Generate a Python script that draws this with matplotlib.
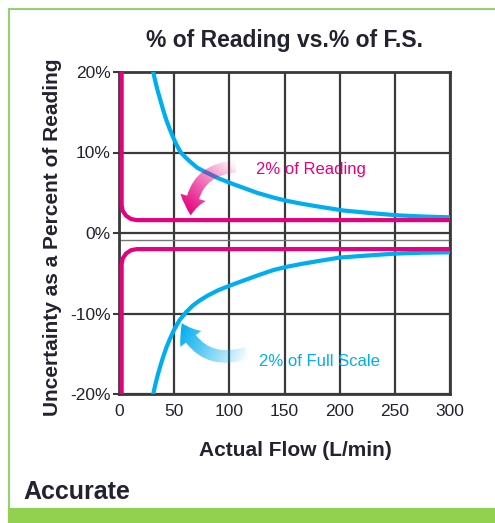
import matplotlib.pyplot as plt
import numpy as np
from matplotlib.patches import FancyArrowPatch, Rectangle

# values (flow in L/min, uncertainty in %)
flow_ticks = [0, 50, 100, 150, 200, 250, 300]
pct_ticks = [-20, -10, 0, 10, 20]
pct_labels = ['-20%', '-10%', '0%', '10%', '20%']

reading_x = [2.4, 2.4, 3.4, 6.4, 10.8, 16, 300]
reading_hi = [20, 3.47, 2.75, 2.15, 1.74, 1.6, 1.6]
reading_lo = [-20, -3.87, -3.15, -2.55, -2.14, -2.0, -2.0]

fs_hi_x = [31, 33, 35, 37.5, 40, 43, 46, 49, 52, 56, 61, 65, 71, 78, 90, 103, 115,
           125, 140, 152, 165, 180, 203, 230, 252, 275, 300]
fs_hi = [20, 18.8, 17.7, 16.5, 15.3, 14.0, 12.9, 11.9, 11.0, 10.0, 9.3, 8.8, 8.1, 7.6,
         6.8, 6.1, 5.5, 5.0, 4.4, 4.0, 3.65, 3.3, 2.8, 2.45, 2.2, 2.05, 1.95]
fs_lo_x = [31, 33, 35, 37.5, 40, 43, 46, 50, 55, 61, 67, 73, 80, 90, 103, 115, 125, 140,
           152, 165, 180, 200, 230, 252, 275, 300]
fs_lo = [-20, -18.8, -17.7, -16.5, -15.4, -14.2, -13.2, -12.0, -10.8, -9.8, -9.0, -8.4,
         -7.8, -7.1, -6.4, -5.8, -5.3, -4.6, -4.2, -3.85, -3.5, -3.05, -2.75, -2.55,
         -2.45, -2.4]

pink = '#e6007e'
blue = '#00aeef'
grid_c = '#3a3a3a'
txt_c = '#222230'
sans = ['Liberation Sans', 'DejaVu Sans']

fig = plt.figure(figsize=(4.95, 5.23), dpi=100)
ax = fig.add_axes([119 / 495, 129 / 523, 331 / 495, 322 / 523])

for x in flow_ticks:
    ax.axvline(x, color=grid_c, lw=1.6, zorder=1)
for y in pct_ticks:
    ax.axhline(y, color=grid_c, lw=1.6, zorder=1)
ax.axhline(-0.85, color='#777777', lw=1.0, zorder=1)

ax.plot(fs_hi_x, fs_hi, color=blue, lw=3.0, zorder=3, solid_joinstyle='round')
ax.plot(fs_lo_x, fs_lo, color=blue, lw=3.0, zorder=3, solid_joinstyle='round')
ax.plot(reading_x, reading_hi, color=pink, lw=3.0, zorder=3, solid_joinstyle='round')
ax.plot(reading_x, reading_lo, color=pink, lw=3.0, zorder=3, solid_joinstyle='round')

ax.set_xlim(0, 300)
ax.set_ylim(-20, 20)
fig.canvas.draw()


def grad_arrow(tail, head, rad, color):
    arr = FancyArrowPatch(tail, head, connectionstyle='arc3,rad=%s' % rad,
                          arrowstyle='simple,head_width=19,head_length=13,tail_width=9',
                          mutation_scale=1, shrinkA=0, shrinkB=0,
                          facecolor='none', edgecolor='none', zorder=4)
    ax.add_patch(arr)
    x0, x1 = min(tail[0], head[0]) - 40, max(tail[0], head[0]) + 40
    y0, y1 = min(tail[1], head[1]) - 6, max(tail[1], head[1]) + 6
    gx, gy = np.meshgrid(np.linspace(x0, x1, 200), np.linspace(y0, y1, 200))
    pts = ax.transData.transform(np.column_stack([gx.ravel(), gy.ravel()]))
    t = np.array(ax.transData.transform(tail))
    h = np.array(ax.transData.transform(head))
    d = h - t
    s = ((pts - t) @ d) / (d @ d)
    s = np.clip(s.reshape(gx.shape), 0, 1)
    rgba = np.zeros(gx.shape + (4,))
    rgba[..., :3] = plt.matplotlib.colors.to_rgb(color)
    rgba[..., 3] = 0.03 + 0.97 * s ** 0.9
    im = ax.imshow(rgba, extent=[x0, x1, y0, y1], origin='lower', aspect='auto',
                   zorder=4, interpolation='bilinear')
    im.set_clip_path(arr)


grad_arrow((106, 8.3), (65, 2.2), 0.45, pink)
grad_arrow((116, -14.9), (57, -11.2), -0.45, blue)

ax.text(174, 7.9, '2% of Reading', color=pink, fontsize=12, family=sans,
        ha='center', va='center', zorder=5)
ax.text(182, -16.0, '2% of Full Scale', color=blue, fontsize=12, family=sans,
        ha='center', va='center', zorder=5)

ax.set_xlim(0, 300)
ax.set_ylim(-20, 20)
ax.set_xticks(flow_ticks)
ax.set_yticks(pct_ticks, pct_labels)
ax.tick_params(axis='y', length=4, width=1.5, color=grid_c, pad=2, labelsize=12.5,
               labelcolor=txt_c)
ax.tick_params(axis='x', length=0, pad=7, labelsize=12.5, labelcolor=txt_c)
for lab in ax.get_xticklabels() + ax.get_yticklabels():
    lab.set_family(sans)
for sp in ax.spines.values():
    sp.set_color(grid_c)
    sp.set_linewidth(2.0)

fig.text(284 / 495, 1 - 40 / 523, '% of Reading vs.% of F.S.', fontsize=16.5,
         fontweight='bold', family=sans, color=txt_c, ha='center', va='center')
fig.text(53 / 495, 1 - 237 / 523, 'Uncertainty as a Percent of Reading', fontsize=15,
         fontweight='bold', family=sans, color=txt_c, rotation=90,
         ha='center', va='center')
fig.text(295 / 495, 1 - 450 / 523, 'Actual Flow (L/min)', fontsize=15,
         fontweight='bold', family=sans, color=txt_c, ha='center', va='center')
fig.text(23 / 495, 1 - 492 / 523, 'Accurate', fontsize=18, fontweight='bold',
         family=sans, color=txt_c, ha='left', va='center')

# green frame and bottom bar
fig.add_artist(Rectangle((8.5 / 495, 0), 2, (523 - 8.5) / 523, transform=fig.transFigure,
                         facecolor='none', edgecolor='#93d36f', lw=1.5))
fig.add_artist(Rectangle((8 / 495, 0), 2, 15 / 523, transform=fig.transFigure,
                         facecolor='#92d050', edgecolor='none'))

plt.savefig('out.png', dpi=100)
